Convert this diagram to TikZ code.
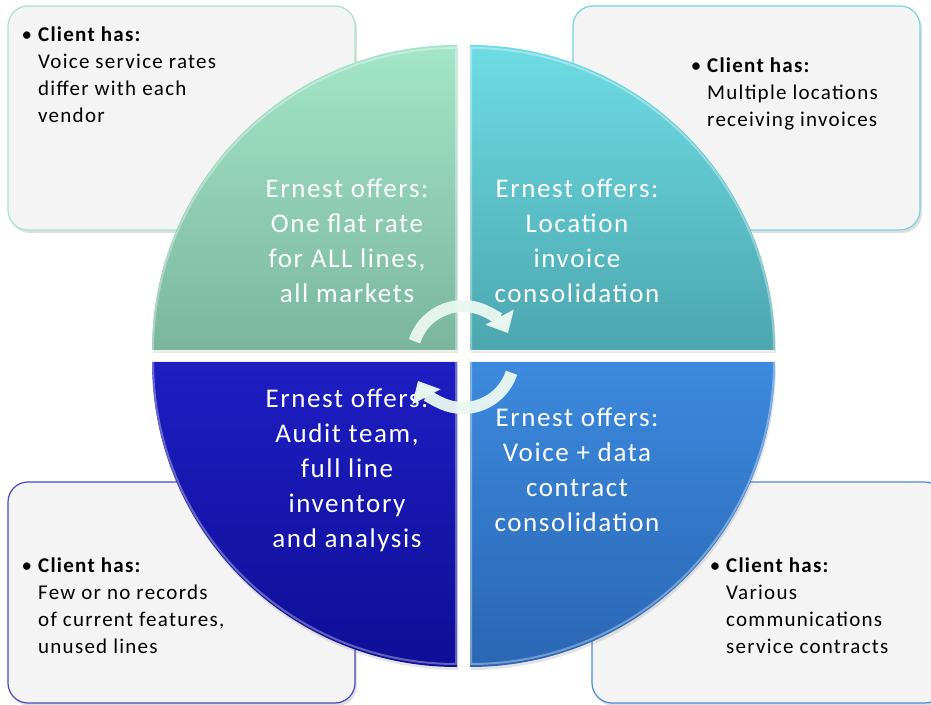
\documentclass[tikz,border=0pt]{standalone}
\usepackage{fontspec}
\setmainfont{Carlito}
\newfontfamily\boxfont[LetterSpace=6]{Carlito}
\usetikzlibrary{arrows.meta,shadows}
\definecolor{boxfill}{HTML}{F4F4F4}
\definecolor{edgeA}{HTML}{A8E4CC}
\definecolor{edgeB}{HTML}{74D4E0}
\definecolor{edgeC}{HTML}{4848C8}
\definecolor{edgeD}{HTML}{4A88D8}
\definecolor{qAtop}{HTML}{A4E6CA}
\definecolor{qAbot}{HTML}{7AB69E}
\definecolor{qBtop}{HTML}{6EDCE4}
\definecolor{qBbot}{HTML}{4CA6AE}
\definecolor{qCtop}{HTML}{1E1EC2}
\definecolor{qCbot}{HTML}{0E0E98}
\definecolor{qDtop}{HTML}{3C8ADE}
\definecolor{qDbot}{HTML}{2A66B4}
\definecolor{arrowcol}{HTML}{EAF8F1}
\begin{document}
\begin{tikzpicture}[x=1pt,y=1pt,
  clientbox/.style={rounded corners=20pt, fill=boxfill, line width=1.2pt,
    drop shadow={opacity=0.25, shadow xshift=2pt, shadow yshift=-3pt}},
  quad/.style={drop shadow={opacity=0.2, shadow xshift=1pt, shadow yshift=-3pt}},
  bevel/.style={draw=white, draw opacity=0.35, line width=2pt},
  clienttext/.style={anchor=north west, inner sep=0pt, align=left,
    font=\boxfont\fontsize{21}{27}\selectfont, text=black},
  offertext/.style={align=center, inner sep=0pt,
    font=\boxfont\fontsize{27}{35}\selectfont, text=white},
  cyclearrow/.style={draw=arrowcol, line width=12pt, opacity=0.95,
    -{Triangle[width=31pt,length=18pt]}}]
\clip (0,0) rectangle (931,704);
\fill[white] (0,0) rectangle (931,704);

% client boxes
\draw[clientbox, draw=edgeA] (8,474) rectangle (355,698);
\draw[clientbox, draw=edgeB] (573,474) rectangle (920,698);
\draw[clientbox, draw=edgeC] (8,1) rectangle (355,222);
\draw[clientbox, draw=edgeD] (592,1) rectangle (945,222);

% quadrants
\path[quad, top color=qAtop, bottom color=qAbot]
  (457,354) -- ++(-305,0) arc[start angle=180, end angle=90, radius=305] -- cycle;
\path[quad, top color=qBtop, bottom color=qBbot]
  (470,354) -- ++(0,305) arc[start angle=90, end angle=0, radius=305] -- cycle;
\path[quad, top color=qCtop, bottom color=qCbot]
  (457,342) -- ++(0,-305) arc[start angle=270, end angle=180, radius=305] -- cycle;
\path[quad, top color=qDtop, bottom color=qDbot]
  (470,342) -- ++(305,0) arc[start angle=0, end angle=-90, radius=305] -- cycle;
% bevels
\draw[bevel] (456,353) -- ++(-303,0) arc[start angle=180, end angle=90, radius=303] -- cycle;
\draw[bevel] (471,353) -- ++(0,303) arc[start angle=90, end angle=0, radius=303] -- cycle;
\draw[bevel] (456,343) -- ++(0,-303) arc[start angle=270, end angle=180, radius=303] -- cycle;
\draw[bevel] (471,343) -- ++(303,0) arc[start angle=0, end angle=-90, radius=303] -- cycle;

% client texts
\node[clienttext] (ctl) at (38,677)
  {\llap{\textbullet\hspace{6pt}}\textbf{Client has:}\\Voice service rates\\differ with each\\vendor};
\node[clienttext] (ctr) at (707,646)
  {\llap{\textbullet\hspace{6pt}}\textbf{Client has:}\\Multiple locations\\receiving invoices};
\node[clienttext] (cbl) at (38,146)
  {\llap{\textbullet\hspace{6pt}}\textbf{Client has:}\\Few or no records\\of current features,\\unused lines};
\node[clienttext] (cbr) at (726,146)
  {\llap{\textbullet\hspace{6pt}}\textbf{Client has:}\\Various\\communications\\service contracts};

% offer texts
\node[offertext] (otl) at (347,463) {Ernest offers:\\One flat rate\\for ALL lines,\\all markets};
\node[offertext] (otr) at (577,463) {Ernest offers:\\Location\\invoice\\consolidation};
\node[offertext] (obl) at (347,234) {Ernest offers:\\Audit team,\\full line\\inventory\\and analysis};
\node[offertext] (obr) at (577,234) {Ernest offers:\\Voice + data\\contract\\consolidation};

% cycle arrows
\coordinate (c) at (463,347);
\draw[cyclearrow] ([shift={(162:51)}]c) arc[start angle=162, end angle=28, radius=51];
\draw[cyclearrow] ([shift={(-18:51)}]c) arc[start angle=-18, end angle=-152, radius=51];
\end{tikzpicture}
\end{document}
